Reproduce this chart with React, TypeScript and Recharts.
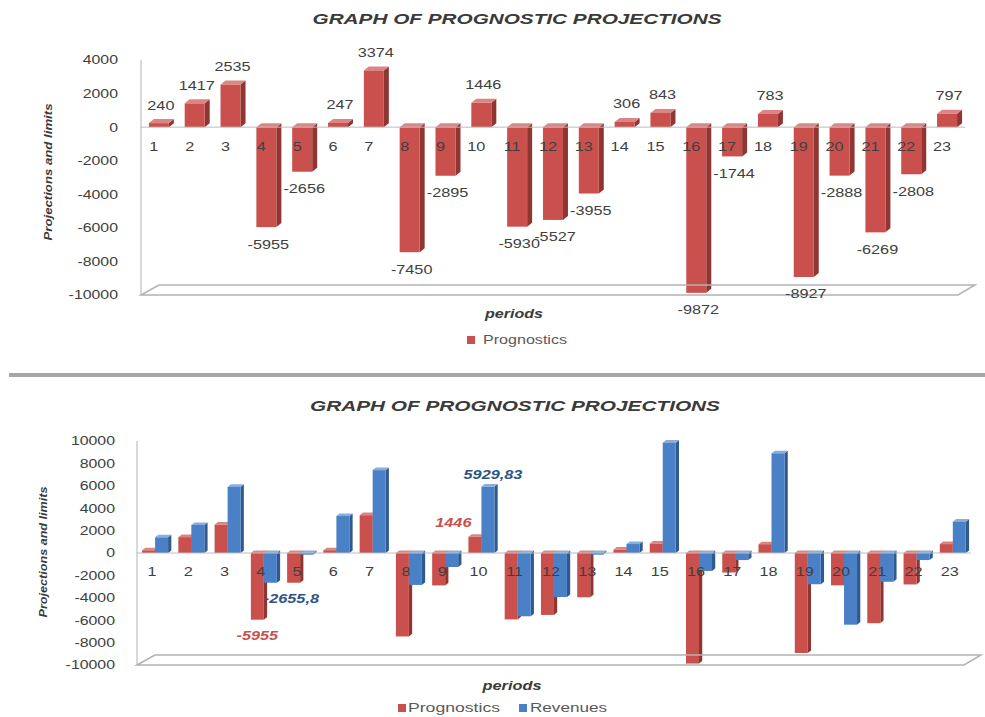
import React from 'react'
import { BarChart, Bar, XAxis, YAxis, ReferenceLine, LabelList } from 'recharts'

const periods = ['1', '2', '3', '4', '5', '6', '7', '8', '9', '10', '11', '12', '13', '14', '15', '16', '17', '18', '19', '20', '21', '22', '23']
const prognostics = [240, 1417, 2535, -5955, -2656, 247, 3374, -7450, -2895, 1446, -5930, -5527, -3955, 306, 843, -9872, -1744, 783, -8927, -2888, -6269, -2808, 797]
const revenues = [1400, 2500, 5900, -2655.8, -150, 3300, 7400, -2850, -1250, 5929.83, -5650, -3930, -150, 800, 9850, -1600, -630, 8900, -2790, -6400, -2570, -630, 2800]
const topTicks = [-10000, -8000, -6000, -4000, -2000, 0, 2000, 4000]
const bottomTicks = [-10000, -8000, -6000, -4000, -2000, 0, 2000, 4000, 6000, 8000, 10000]
// periods whose values get a data label in the second chart
const labelledPeriods = ['4', '10']

const RED = '#C9504C'
const RED_SIDE = '#8F3532'
const RED_TOP = '#DC8582'
const BLUE = '#4A80C6'
const BLUE_SIDE = '#2F5A8F'
const BLUE_TOP = '#88AEDD'
const INK = '#404040'
const FONT = '"Liberation Sans", Arial, sans-serif'

const topData = periods.map((period, i) => ({ period, prognostics: prognostics[i] }))
const bottomData = periods.map((period, i) => ({ period, prognostics: prognostics[i], revenues: revenues[i] }))

const fmt = (v: number) => String(v).replace('.', ',')

// text squeezed wider, like the stretched screenshot
function Txt({ x, y, anchor = 'middle', size = 13, sx = 1.25, fill = INK, italic = false, bold = false, children }: any) {
  return (
    <text
      transform={`translate(${x},${y}) scale(${sx},1)`}
      textAnchor={anchor}
      dominantBaseline="central"
      fontSize={size}
      fontFamily={FONT}
      fontStyle={italic ? 'italic' : 'normal'}
      fontWeight={bold ? 'bold' : 'normal'}
      fill={fill}
    >
      {children}
    </text>
  )
}

const bar3d = (side: string, top: string) => (p: any) => {
  const { x, y, width, height, fill } = p
  if (x == null || !width) return <g />
  const t = Math.min(y, y + height)
  const h = Math.abs(height)
  const dx = Math.max(3, width * 0.25)
  const dy = dx * 0.8
  return (
    <g>
      <path d={`M${x + width},${t}l${dx},${-dy}v${h}l${-dx},${dy}z`} fill={side} />
      <path d={`M${x},${t}l${dx},${-dy}h${width}l${-dx},${dy}z`} fill={top} />
      <rect x={x} y={t} width={width} height={h} fill={fill} />
    </g>
  )
}

// zero baseline and far end of a bar, whatever way the rect comes in
function geom(p: any, v: number) {
  const vb = p.viewBox && p.viewBox.width != null ? p.viewBox : p
  const { x, y, width, height } = vb
  const base = v < 0 && height > 0 ? y : y + height
  const end = v < 0 ? base + Math.abs(height) : base - Math.abs(height)
  return { x, width, base, end }
}

const Floor = (p: any) => {
  const { x1, y1, x2 } = p
  return (
    <polygon
      points={`${x1},${y1} ${x1 + 18},${y1 - 10} ${x2 + 10},${y1 - 10} ${x2 - 7},${y1}`}
      fill="none"
      stroke="#b3b3b3"
      strokeWidth={1.5}
    />
  )
}

const YTick = (p: any) => (
  <Txt x={p.x} y={p.y} anchor="end" sx={1.22}>{p.payload.value}</Txt>
)

const TopValueLabel = (p: any) => {
  const v = prognostics[p.index]
  const g = geom(p, v)
  return <Txt x={g.x + g.width / 2 + 2} y={v >= 0 ? g.end - 18 : g.end + 17}>{v}</Txt>
}

const TopPeriodLabel = (p: any) => {
  const g = geom(p, prognostics[p.index])
  return <Txt x={g.x + 5} y={g.base + 19}>{periods[p.index]}</Txt>
}

const BottomPeriodLabel = (p: any) => {
  const g = geom(p, prognostics[p.index])
  return <Txt x={g.x + g.width - 3} y={g.base + 19}>{periods[p.index]}</Txt>
}

const RedNote = (p: any) => {
  if (!labelledPeriods.includes(periods[p.index])) return <g />
  const v = prognostics[p.index]
  const g = geom(p, v)
  if (v >= 0) return <Txt x={g.x + 3} y={g.end - 14} anchor="end" italic bold fill={RED}>{fmt(v)}</Txt>
  return <Txt x={g.x + g.width / 2} y={g.end + 16} italic bold fill={RED}>{fmt(v)}</Txt>
}

const BlueNote = (p: any) => {
  if (!labelledPeriods.includes(periods[p.index])) return <g />
  const v = revenues[p.index]
  const g = geom(p, v)
  if (v >= 0) return <Txt x={g.x + g.width / 2 + 5} y={g.end - 12} italic bold fill="#2E5486">{fmt(v)}</Txt>
  return <Txt x={g.x} y={g.end + 16} anchor="start" italic bold fill="#2E5486">{fmt(v)}</Txt>
}

function Decor() {
  const title = { fontFamily: FONT, fontWeight: 'bold' as const, fontStyle: 'italic' as const, fill: '#3a3a3a' }
  return (
    <svg width={985} height={717} style={{ position: 'absolute', left: 0, top: 0, pointerEvents: 'none' }}>
      <rect x={9} y={373} width={976} height={4} fill="#a6a6a6" />

      <text x={517} y={18} textAnchor="middle" dominantBaseline="central" fontSize={15} textLength={409} lengthAdjust="spacingAndGlyphs" {...title}>GRAPH OF PROGNOSTIC PROJECTIONS</text>
      <text transform="translate(48,172) rotate(-90)" textAnchor="middle" dominantBaseline="central" fontSize={11} textLength={137} lengthAdjust="spacingAndGlyphs" {...title}>Projections and limits</text>
      <text x={514} y={313} textAnchor="middle" dominantBaseline="central" fontSize={13} textLength={58} lengthAdjust="spacingAndGlyphs" {...title}>periods</text>
      <rect x={467} y={336} width={8} height={8} fill={RED} />
      <text x={483} y={340} dominantBaseline="central" fontSize={12} fontFamily={FONT} fill="#595959" textLength={84} lengthAdjust="spacingAndGlyphs">Prognostics</text>

      <text x={515} y={405} textAnchor="middle" dominantBaseline="central" fontSize={15} textLength={410} lengthAdjust="spacingAndGlyphs" {...title}>GRAPH OF PROGNOSTIC PROJECTIONS</text>
      <text transform="translate(43,552) rotate(-90)" textAnchor="middle" dominantBaseline="central" fontSize={11} textLength={131} lengthAdjust="spacingAndGlyphs" {...title}>Projections and limits</text>
      <text x={512} y={685} textAnchor="middle" dominantBaseline="central" fontSize={13} textLength={59} lengthAdjust="spacingAndGlyphs" {...title}>periods</text>
      <rect x={398} y={704} width={8} height={8} fill={RED} />
      <text x={408} y={708} dominantBaseline="central" fontSize={12} fontFamily={FONT} fill="#595959" textLength={92} lengthAdjust="spacingAndGlyphs">Prognostics</text>
      <rect x={519} y={704} width={8} height={8} fill={BLUE} />
      <text x={530} y={708} dominantBaseline="central" fontSize={12} fontFamily={FONT} fill="#595959" textLength={77} lengthAdjust="spacingAndGlyphs">Revenues</text>
    </svg>
  )
}

export default function App() {
  return (
    <div style={{ position: 'absolute', left: 0, top: 0, width: 985, height: 717, background: '#fff' }}>
      <Decor />
      <div style={{ position: 'absolute', left: 0, top: 0 }}>
        <BarChart width={985} height={360} data={topData} margin={{ top: 60, right: 20, bottom: 65, left: 0 }} barCategoryGap="22%">
          <XAxis dataKey="period" hide />
          <YAxis
            width={141}
            domain={[-10000, 4000]}
            ticks={topTicks}
            interval={0}
            tickLine={false}
            tickSize={0}
            tickMargin={23}
            axisLine={{ stroke: '#b3b3b3' }}
            tick={YTick}
          />
          <ReferenceLine y={0} stroke="#bdbdbd" />
          <ReferenceLine y={-10000} shape={Floor} />
          <Bar dataKey="prognostics" name="Prognostics" fill={RED} shape={bar3d(RED_SIDE, RED_TOP)} isAnimationActive={false}>
            <LabelList content={TopPeriodLabel} />
            <LabelList content={TopValueLabel} />
          </Bar>
        </BarChart>
      </div>
      <div style={{ position: 'absolute', left: 0, top: 360 }}>
        <BarChart width={985} height={357} data={bottomData} margin={{ top: 81, right: 14, bottom: 52, left: 0 }} barCategoryGap="14%" barGap={0}>
          <XAxis dataKey="period" hide />
          <YAxis
            width={137}
            domain={[-10000, 10000]}
            ticks={bottomTicks}
            interval={0}
            tickLine={false}
            tickSize={0}
            tickMargin={22}
            axisLine={{ stroke: '#b3b3b3' }}
            tick={YTick}
          />
          <ReferenceLine y={0} stroke="#bdbdbd" />
          <ReferenceLine y={-10000} shape={Floor} />
          <Bar dataKey="prognostics" name="Prognostics" fill={RED} shape={bar3d(RED_SIDE, RED_TOP)} isAnimationActive={false}>
            <LabelList content={BottomPeriodLabel} />
            <LabelList content={RedNote} />
          </Bar>
          <Bar dataKey="revenues" name="Revenues" fill={BLUE} shape={bar3d(BLUE_SIDE, BLUE_TOP)} isAnimationActive={false}>
            <LabelList content={BlueNote} />
          </Bar>
        </BarChart>
      </div>
    </div>
  )
}
